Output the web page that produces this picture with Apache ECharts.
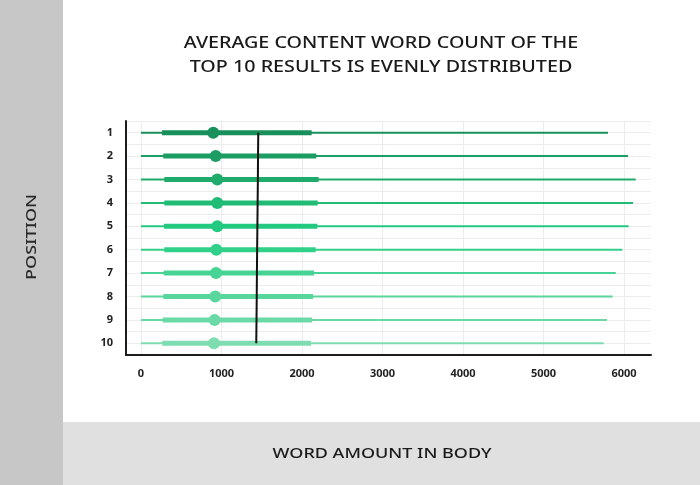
<!DOCTYPE html>
<html>
<head>
<meta charset="utf-8">
<script src="https://cdn.jsdelivr.net/npm/echarts@6/dist/echarts.min.js"></script>
<style>
html,body{margin:0;padding:0;background:#fff;}
#chart{width:700px;height:485px;}
</style>
</head>
<body>
<div id="chart"></div>
<script>
// ---- data ----
const positions = ['1','2','3','4','5','6','7','8','9','10'];
const minWords = [0,0,0,0,0,0,0,0,0,0];
const q1Words = [261,277,290,290,286,290,282,278,269,265];
const medianWords = [898,928,948,948,948,936,932,923,915,907];
const q3Words = [2120,2178,2207,2195,2190,2170,2149,2137,2124,2112];
const maxWords = [5801,6050,6145,6112,6058,5979,5897,5859,5789,5748];
const meanWords = [1457,1454,1452,1449,1446,1443,1440,1438,1435,1432];
const xTickValues = [0,1000,2000,3000,4000,5000,6000];
const titleText = 'AVERAGE CONTENT WORD COUNT OF THE\nTOP 10 RESULTS IS EVENLY DISTRIBUTED';
const yAxisTitle = 'POSITION';
const xAxisTitle = 'WORD AMOUNT IN BODY';

// ---- style ----
const rowColors = ['#18905c','#1b9d63','#1eab6b','#20bb75','#22c97f','#30d089','#46d393','#58d69c','#6bd9a6','#7ddcb0'];
const FONT = '"Noto Sans", "Open Sans", sans-serif';

const rowIndex = positions.map((p, i) => i + 1);

function rangeRenderer(width) {
  return function (params, api) {
    const y = api.value(0);
    const a = api.coord([api.value(1), y]);
    const b = api.coord([api.value(2), y]);
    return {
      type: 'line',
      shape: { x1: a[0], y1: a[1], x2: b[0], y2: b[1] },
      style: { stroke: rowColors[params.dataIndex], lineWidth: width, lineCap: 'butt' }
    };
  };
}

const chart = echarts.init(document.getElementById('chart'), null, { renderer: 'canvas' });
chart.setOption({
  animation: false,
  backgroundColor: '#ffffff',
  grid: { left: 126, right: 49, top: 121, bottom: 130, containLabel: false },
  xAxis: {
    type: 'value',
    min: -186,
    max: 6335,
    axisLine: { show: true, onZero: false, lineStyle: { color: '#1c1c1c', width: 2 } },
    axisTick: { show: false, customValues: xTickValues },
    axisLabel: {
      customValues: xTickValues,
      formatter: v => String(v),
      color: '#222', fontFamily: FONT, fontWeight: 'bold', fontSize: 11, margin: 13
    },
    splitLine: { show: true, lineStyle: { color: '#ececec', width: 1 } }
  },
  yAxis: {
    type: 'value',
    inverse: true,
    min: 0.5,
    max: 10.5,
    interval: 0.5,
    axisLine: { show: true, onZero: false, lineStyle: { color: '#1c1c1c', width: 2 } },
    axisTick: { show: false },
    axisLabel: {
      color: '#222', fontFamily: FONT, fontWeight: 'bold', fontSize: 11, margin: 13,
      formatter: v => (Number.isInteger(v) && v >= 1 && v <= positions.length) ? positions[v - 1] : ''
    },
    splitLine: { show: true, lineStyle: { color: '#ececec', width: 1 } }
  },
  graphic: [
    { type: 'rect', z: -10, silent: true, shape: { x: 0, y: 0, width: 63, height: 485 }, style: { fill: '#c7c7c7' } },
    { type: 'rect', z: -10, silent: true, shape: { x: 63, y: 422, width: 637, height: 63 }, style: { fill: '#e0e0e0' } },
    { type: 'text', x: 381, y: 55, scaleX: 1.16, silent: true,
      style: { text: titleText, fill: '#1a1a1a', font: '500 17px ' + FONT, textAlign: 'center', textVerticalAlign: 'middle', lineHeight: 24 } },
    { type: 'text', x: 32, y: 237, rotation: Math.PI / 2, scaleX: 1.2, silent: true,
      style: { text: yAxisTitle, fill: '#2a2a2a', font: '500 15px ' + FONT, textAlign: 'center', textVerticalAlign: 'middle' } },
    { type: 'text', x: 382, y: 454, scaleX: 1.2, silent: true,
      style: { text: xAxisTitle, fill: '#1a1a1a', font: '500 15px ' + FONT, textAlign: 'center', textVerticalAlign: 'middle' } }
  ],
  series: [
    {
      type: 'custom', name: 'range', z: 2,
      renderItem: rangeRenderer(2),
      encode: { x: [1, 2], y: 0 },
      data: rowIndex.map((r, i) => [r, minWords[i], maxWords[i]])
    },
    {
      type: 'custom', name: 'interquartile', z: 3,
      renderItem: rangeRenderer(5),
      encode: { x: [1, 2], y: 0 },
      data: rowIndex.map((r, i) => [r, q1Words[i], q3Words[i]])
    },
    {
      type: 'line', name: 'mean', z: 4,
      data: rowIndex.map((r, i) => [meanWords[i], r]),
      symbol: 'none',
      lineStyle: { color: '#111', width: 2 }
    },
    {
      type: 'scatter', name: 'median', z: 5,
      symbolSize: 12,
      data: rowIndex.map((r, i) => [medianWords[i], r]),
      itemStyle: { color: p => rowColors[p.dataIndex], opacity: 1 }
    }
  ]
});
</script>
</body>
</html>
